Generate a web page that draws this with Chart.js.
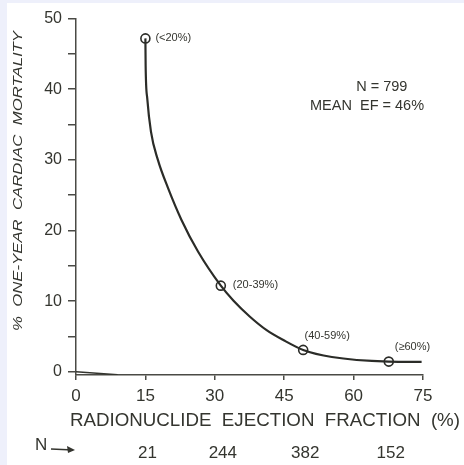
<!DOCTYPE html>
<html>
<head>
<meta charset="utf-8">
<script src="https://cdn.jsdelivr.net/npm/chart.js@4"></script>
<style>
  html, body { margin: 0; padding: 0; background: #eef0fb; width: 464px; height: 465px; overflow: hidden; }
  #wrap { position: absolute; left: 7px; top: 3px; width: 457px; height: 462px; background: #fff; }
</style>
</head>
<body>
<div id="wrap"><canvas id="chart"></canvas></div>
<script>
// curve (ejection fraction %, one-year mortality %)
const curveEf = [15, 15.05, 15.4, 16.2, 17.7, 19.9, 22.8, 26.4, 31.3, 34.0, 37.6, 41.2, 44.8, 49.1, 55.3, 67.6, 74.7];
const curveMort = [47.2, 43.4, 38.7, 34.0, 30.0, 26.0, 21.5, 17.0, 12.2, 10.1, 7.8, 5.9, 4.5, 3.1, 2.1, 1.45, 1.4];
// short stroke leaving the y axis at zero
const baseEf = [0, 9];
const baseMort = [0, -0.4];
// group means
const groupEf = [15, 31.3, 49.1, 67.6];
const groupMort = [47.2, 12.2, 3.1, 1.45];
const groupLabels = ["(<20%)", "(20-39%)", "(40-59%)", "(\u226560%)"];
const groupN = [21, 244, 382, 152];
const xTicks = [0, 15, 30, 45, 60, 75];
const yTicks = [0, 5, 10, 15, 20, 25, 30, 35, 40, 45, 50];

const ink = "#34352f";
const FONT = "'Liberation Sans', Arial, sans-serif";
const pts = (xs, ys) => xs.map((x, i) => ({ x, y: ys[i] }));

function stretchText(ctx, text, x, y, width) {
  const w = ctx.measureText(text).width;
  ctx.save();
  ctx.translate(x, y);
  ctx.scale(width / w, 1);
  ctx.fillText(text, 0, 0);
  ctx.restore();
}

const textPlugin = {
  id: "figText",
  afterDraw(chart) {
    const { ctx, scales: { x, y } } = chart;
    ctx.save();
    ctx.fillStyle = ink;
    ctx.textBaseline = "middle";

    // group labels next to the open circles
    const offs = [[10, 0, "left"], [12, -1, "left"], [24, -14, "center"], [6, -15, "left"]];
    ctx.font = `11px ${FONT}`;
    groupLabels.forEach((t, i) => {
      ctx.textAlign = offs[i][2];
      ctx.fillText(t, x.getPixelForValue(groupEf[i]) + offs[i][0], y.getPixelForValue(groupMort[i]) + offs[i][1]);
    });

    // study summary
    ctx.font = `14.5px ${FONT}`;
    ctx.textAlign = "center";
    ctx.fillText("N = 799", x.getPixelForValue(66.1), y.getPixelForValue(40.3));
    ctx.fillText("MEAN  EF = 46%", x.getPixelForValue(62.9), y.getPixelForValue(37.6));

    // x title
    ctx.font = `19px ${FONT}`;
    ctx.textAlign = "left";
    stretchText(ctx, "RADIONUCLIDE  EJECTION  FRACTION  (%)", 63, 418, 390);

    // N row
    ctx.font = `17px ${FONT}`;
    ctx.fillText("N", 28, 442);
    ctx.strokeStyle = ink;
    ctx.lineWidth = 1.5;
    ctx.beginPath();
    ctx.moveTo(44, 446);
    ctx.lineTo(66, 447);
    ctx.stroke();
    ctx.beginPath();
    ctx.moveTo(68, 447);
    ctx.lineTo(60, 443);
    ctx.lineTo(61, 450);
    ctx.closePath();
    ctx.fill();
    ctx.textAlign = "center";
    groupN.forEach((n, i) => ctx.fillText(String(n), x.getPixelForValue(groupEf[i]) + 2, 450));

    // y title
    ctx.font = `italic 13px ${FONT}`;
    ctx.translate(11, 178);
    ctx.rotate(-Math.PI / 2);
    ctx.textAlign = "left";
    stretchText(ctx, "%  ONE-YEAR  CARDIAC  MORTALITY", -150, 0, 300);
    ctx.restore();
  }
};

new Chart(document.getElementById("chart"), {
  type: "line",
  data: {
    datasets: [
      { data: pts(baseEf, baseMort), borderColor: ink, borderWidth: 1.5, pointRadius: 0, tension: 0.3 },
      { data: pts(curveEf, curveMort), borderColor: "#2b2c28", borderWidth: 2.2, pointRadius: 0, cubicInterpolationMode: "monotone" },
      { data: pts(groupEf, groupMort), showLine: false, pointRadius: 4.5, pointBorderWidth: 1.6,
        pointBackgroundColor: "#fff", pointBorderColor: "#2b2c28" }
    ]
  },
  options: {
    responsive: true,
    maintainAspectRatio: false,
    animation: false,
    layout: { padding: { top: 13, right: 41, left: 0, bottom: 0 } },
    plugins: { legend: { display: false }, tooltip: { enabled: false } },
    scales: {
      x: {
        type: "linear", min: 0, max: 75,
        afterBuildTicks: (s) => { s.ticks = xTicks.map((v) => ({ value: v })); },
        afterFit: (s) => { s.height = 90; },
        border: { color: "#4a4a45", width: 1.5 },
        grid: { drawOnChartArea: false, tickLength: 5, color: "#4a4a45", lineWidth: 1.5 },
        ticks: { color: ink, font: { family: FONT, size: 17 }, padding: 6 }
      },
      y: {
        type: "linear", min: -0.45, max: 50,
        afterBuildTicks: (s) => { s.ticks = yTicks.map((v) => ({ value: v })); },
        afterFit: (s) => { s.width = 69; },
        border: { color: "#4a4a45", width: 1.5 },
        grid: { drawOnChartArea: false, tickLength: 8, color: "#4a4a45", lineWidth: 1.5 },
        ticks: { color: ink, font: { family: FONT, size: 16 }, padding: 6,
          callback: (v) => (v % 10 === 0 ? String(v) : "") }
      }
    }
  },
  plugins: [textPlugin]
});
</script>
</body>
</html>
